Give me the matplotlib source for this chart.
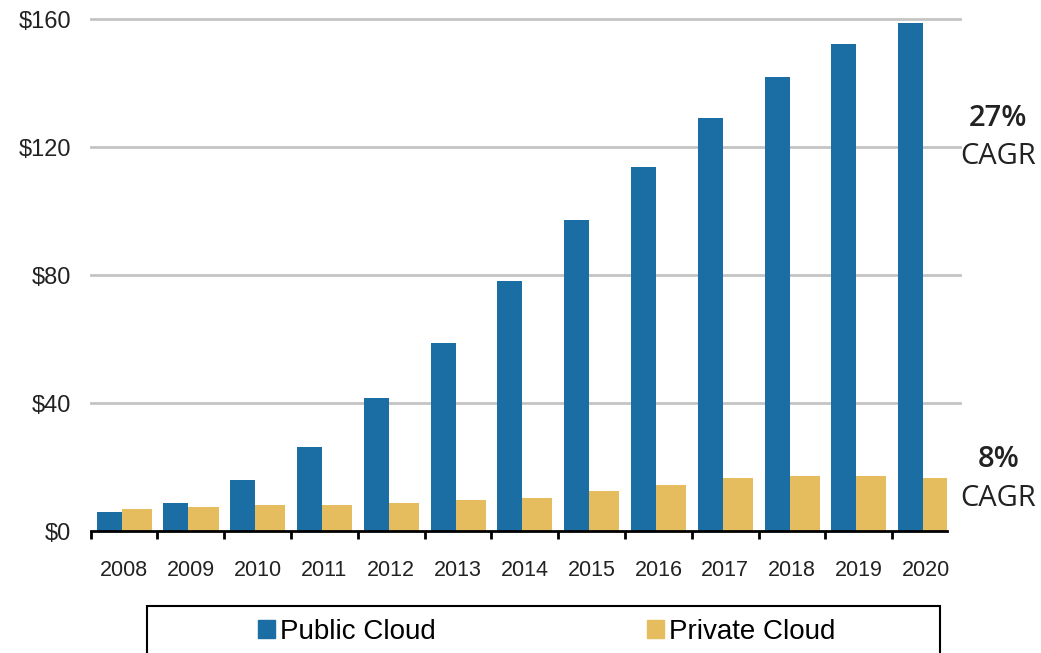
import numpy as np
import matplotlib
matplotlib.use("Agg")
import matplotlib.pyplot as plt
from matplotlib.patches import Rectangle, Patch

years = ["2008", "2009", "2010", "2011", "2012", "2013", "2014",
         "2015", "2016", "2017", "2018", "2019", "2020"]
public_cloud = [6.0, 8.8, 15.8, 26.2, 41.6, 58.8, 78.1, 97.2, 113.8, 129.0, 141.9, 152.2, 158.8]
private_cloud = [6.8, 7.4, 8.1, 8.1, 8.7, 9.7, 10.3, 12.5, 14.4, 16.5, 17.1, 17.2, 16.5]
y_ticks = [0, 40, 80, 120, 160]
cagr_labels = [("27%", "CAGR", 129), ("8%", "CAGR", 22.2)]

BLUE = "#1a6ea3"
GOLD = "#e6bd5e"
GRID = "#c4c4c4"

plt.rcParams["font.family"] = ["Liberation Sans", "DejaVu Sans"]

fig = plt.figure(figsize=(10.41, 6.53), dpi=100)
ax = fig.add_axes([0.0871, 0.1868, 0.9097 - 0.0871, 0.9709 - 0.1868])

x = np.arange(len(years))
ax.bar(x - 0.223, public_cloud, 0.374, color=BLUE, zorder=3)
ax.bar(x + 0.189, private_cloud, 0.45, color=GOLD, zorder=3)

ax.set_xlim(-0.5, 12.32)
ax.set_ylim(0, 160)

# gridlines run a little past the clipped right edge
for v in y_ticks[1:]:
    ax.plot([0, 1.015], [v, v], transform=ax.get_yaxis_transform(),
            color=GRID, lw=2, clip_on=False, zorder=1)

for s in ["left", "right", "top"]:
    ax.spines[s].set_visible(False)
ax.spines["bottom"].set_color("black")
ax.spines["bottom"].set_linewidth(2)
ax.spines["bottom"].set_zorder(4)

ax.set_yticks(y_ticks)
ax.set_yticklabels([f"${v}" for v in y_ticks], fontsize=17, color="#222222")
ax.tick_params(axis="y", length=0, pad=14)

ax.set_xticks(x)
ax.set_xticklabels(years, fontsize=15.5, color="#222222")
ax.set_xticks(x - 0.5, minor=True)
ax.tick_params(axis="x", which="major", length=0, pad=21)
ax.tick_params(axis="x", which="minor", length=6, width=2, color="black", direction="out")

for top, bottom, yv in cagr_labels:
    ax.text(1.06, yv, top, transform=ax.get_yaxis_transform(), ha="center", va="center",
            fontsize=21, fontweight="semibold", family=["Open Sans", "DejaVu Sans"], color="#222222")
    ax.text(1.06, yv - 12.1, bottom, transform=ax.get_yaxis_transform(), ha="center", va="center",
            fontsize=21, family=["Open Sans", "DejaVu Sans"], color="#222222")

# legend box runs off the bottom of the figure
fig.patches.append(Rectangle((147 / 1041, -0.05), (940 - 147) / 1041, 0.05 + (653 - 606) / 653,
                             transform=fig.transFigure, fill=False, edgecolor="black", lw=1.5))
handles = [Patch(color=BLUE, label="Public Cloud"), Patch(color=GOLD, label="Private Cloud")]
fig.legend(handles=handles, loc="center", bbox_to_anchor=(547 / 1041, 1 - 632 / 653),
           ncol=2, frameon=False, fontsize=20, handlelength=0.6, handleheight=0.6,
           handletextpad=0.2, columnspacing=7.6)

fig.savefig("out.png", dpi=100)
